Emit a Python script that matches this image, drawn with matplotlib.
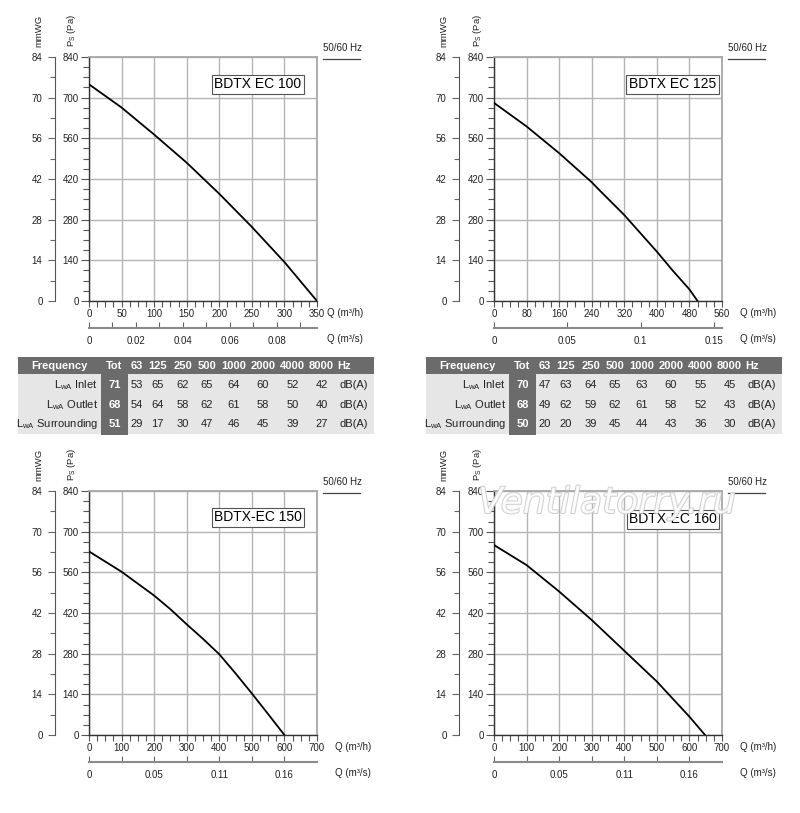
import numpy as np
import matplotlib.pyplot as plt
import matplotlib.patheffects as pe
from matplotlib.patches import Rectangle
from matplotlib.ticker import MultipleLocator, FixedLocator

plt.rcParams['font.family'] = ['Liberation Sans', 'DejaVu Sans']

W, H = 800, 813
AW, AH = 228, 244  # axes size in pixels

# fan curves: airflow Q (m3/h) vs static pressure Ps (Pa)
q_100 = [0, 50, 100, 150, 200, 250, 300, 350]
ps_100 = [746, 666, 573, 476, 369, 255, 134, 0]
q_125 = [0, 80, 160, 240, 260, 320, 360, 400, 440, 480, 500]
ps_125 = [682, 601, 509, 409, 380, 296, 233, 170, 103, 40, 0]
q_150 = [0, 100, 200, 250, 300, 350, 400, 450, 500, 550, 600]
ps_150 = [632, 562, 480, 433, 381, 331, 278, 212, 143, 72, 0]
q_160 = [0, 100, 200, 300, 400, 500, 600, 648]
ps_160 = [654, 585, 494, 396, 290, 184, 63, 0]

# second airflow scale (m3/s), as printed
qs_ticks_100 = [0, 0.02, 0.04, 0.06, 0.08]
qs_labels_100 = ['0', '0.02', '0.04', '0.06', '0.08']
qs_minor_100 = [0.01, 0.03, 0.05, 0.07, 0.09]
qs_ticks_125 = [0, 0.05, 0.1, 0.15]
qs_labels_125 = ['0', '0.05', '0.1', '0.15']
qs_ticks_150 = [0, 0.0556, 0.1111, 0.1667]
qs_labels_150 = ['0', '0.05', '0.11', '0.16']
qs_minor_150 = [0.0278, 0.0833, 0.1389]

# sound tables
freqs = ['63', '125', '250', '500', '1000', '2000', '4000', '8000']
row_names = ['Inlet', 'Outlet', 'Surrounding']
tot_100 = [71, 68, 51]
inlet_100 = [53, 65, 62, 65, 64, 60, 52, 42]
outlet_100 = [54, 64, 58, 62, 61, 58, 50, 40]
surr_100 = [29, 17, 30, 47, 46, 45, 39, 27]
tot_125 = [70, 68, 50]
inlet_125 = [47, 63, 64, 65, 63, 60, 55, 45]
outlet_125 = [49, 62, 59, 62, 61, 58, 52, 43]
surr_125 = [20, 20, 39, 45, 44, 43, 36, 30]

fig = plt.figure(figsize=(8, 8.13), dpi=100)
overlay = []  # texts drawn in pixel coords later


def draw_panel(x0, y0, q, ps, qmax, qstep, name, name_pos,
               qs_ticks, qs_labels, qs_minor, wg_off, qlab_dx):
    ax = fig.add_axes([x0 / W, 1 - (y0 + AH) / H, AW / W, AH / H])
    ax.plot(q, ps, color='black', lw=1.3, zorder=3)
    ax.set_xlim(0, qmax)
    ax.set_ylim(0, 840)
    ax.set_xticks(np.arange(0, qmax + 1, qstep))
    ax.xaxis.set_minor_locator(MultipleLocator(qstep / 4))
    ax.set_yticks(np.arange(0, 841, 140))
    ax.yaxis.set_minor_locator(MultipleLocator(35))
    ax.grid(True, which='major', color='#b4b4b4', lw=1)
    ax.tick_params(axis='x', which='both', direction='out', length=4,
                   width=0.8, color='#555', labelsize=7, pad=2, labelcolor='#222')
    ax.tick_params(axis='y', which='major', direction='out', length=6,
                   width=0.8, color='#555', labelsize=7, pad=1.5, labelcolor='#222')
    ax.tick_params(axis='y', which='minor', direction='out', length=4.5,
                   width=0.8, color='#555')
    for s in ['left', 'bottom']:
        ax.spines[s].set_color('#333')
        ax.spines[s].set_linewidth(1)
    for s in ['top', 'right']:
        ax.spines[s].set_color('#a8a8a8')
        ax.spines[s].set_linewidth(1.3)
    ax.text(name_pos[0], name_pos[1], name, transform=ax.transAxes,
            ha='center', va='center', fontsize=10, zorder=5,
            bbox=dict(boxstyle='square,pad=0.18', fc='white', ec='#555', lw=0.8))

    # m3/s scale
    sx = ax.secondary_xaxis(-27 / AH, functions=(lambda v: v / 3600, lambda v: v * 3600))
    sx.set_xticks(qs_ticks, qs_labels)
    if qs_minor:
        sx.xaxis.set_minor_locator(FixedLocator(qs_minor))
    sx.tick_params(which='both', direction='in', length=4, width=0.8,
                   color='#666', labelsize=7, pad=6, labelcolor='#222')
    sx.spines['bottom'].set_color('#8a8a8a')
    sx.spines['bottom'].set_linewidth(1.5)

    # mmWG scale
    sy = ax.secondary_yaxis(-wg_off / AW, functions=(lambda v: v / 10, lambda v: v * 10))
    sy.set_yticks(np.arange(0, 85, 14))
    sy.yaxis.set_minor_locator(MultipleLocator(7))
    sy.tick_params(which='major', direction='out', length=5, width=0.8,
                   color='#666', labelsize=7, pad=4, labelcolor='#222')
    sy.tick_params(which='minor', direction='out', length=3.5, width=0.8, color='#666')
    sy.spines['left'].set_color('#555')

    overlay.append((x0 - 50, y0 - 10, 'mmWG', dict(rotation=90, ha='center', va='bottom', fontsize=6.8)))
    overlay.append((x0 - 17, y0 - 10, r'P$_\mathregular{S}$ (Pa)', dict(rotation=90, ha='center', va='bottom', fontsize=6.8)))
    overlay.append((x0 + 234, y0 - 4, '50/60 Hz', dict(ha='left', va='bottom', fontsize=7)))
    overlay.append((x0 + qlab_dx, y0 + 256, 'Q (m³/h)', dict(ha='left', va='center', fontsize=7)))
    overlay.append((x0 + qlab_dx, y0 + 282, 'Q (m³/s)', dict(ha='left', va='center', fontsize=7)))
    overlay.append(('line', x0 + 234, x0 + 271, y0 + 2))


def draw_table(tx, tot, rows):
    ov.add_patch(Rectangle((tx, 357), 356, 17.5, fc='#6b6b6b', ec='none'))
    ov.add_patch(Rectangle((tx, 374.5), 356, 59.5, fc='#e6e6e6', ec='none'))
    ov.add_patch(Rectangle((tx + 83, 374.5), 27, 60.5, fc='#6b6b6b', ec='none'))
    cols = [119, 139.5, 165, 188.5, 215.5, 245, 274.5, 303.5]
    hkw = dict(color='white', fontweight='bold', fontsize=8, va='center')
    ov.text(tx + 41, 366, 'Frequency', ha='center', **hkw)
    ov.text(tx + 96.5, 366, 'Tot', ha='center', **hkw)
    for c, f in zip(cols, freqs):
        ov.text(tx + c, 366, f, ha='center', **hkw)
    ov.text(tx + 319, 366, 'Hz', ha='left', **hkw)
    for r, (nm, t, vals) in enumerate(zip(row_names, tot, rows)):
        y = 385 + r * 19.7
        ov.text(tx + 80, y, r'L$_\mathregular{wA}$ ' + nm, ha='right', va='center',
                fontsize=8, color='#222')
        ov.text(tx + 96.5, y, str(t), ha='center', va='center', fontsize=8,
                color='white', fontweight='bold')
        for c, v in zip(cols, vals):
            ov.text(tx + c, y, str(v), ha='center', va='center', fontsize=8, color='#222')
        ov.text(tx + 321, y, 'dB(A)', ha='left', va='center', fontsize=8, color='#222')


draw_panel(89, 57, q_100, ps_100, 350, 50, 'BDTX EC 100', (0.741, 0.889),
           qs_ticks_100, qs_labels_100, qs_minor_100, 34, 238)
draw_panel(494, 57, q_125, ps_125, 560, 80, 'BDTX EC 125', (0.783, 0.889),
           qs_ticks_125, qs_labels_125, None, 35, 246)
draw_panel(89, 491, q_150, ps_150, 700, 100, 'BDTX-EC 150', (0.741, 0.893),
           qs_ticks_150, qs_labels_150, qs_minor_150, 34, 246)
draw_panel(494, 491, q_160, ps_160, 700, 100, 'BDTX-EC 160', (0.785, 0.885),
           qs_ticks_150, qs_labels_150, qs_minor_150, 35, 246)

# pixel-space overlay for tables and free labels
ov = fig.add_axes([0, 0, 1, 1])
ov.set_xlim(0, W)
ov.set_ylim(H, 0)
ov.axis('off')

for item in overlay:
    if item[0] == 'line':
        ov.plot([item[1], item[2]], [item[3], item[3]], color='#444', lw=0.9)
    else:
        x, y, s, kw = item
        ov.text(x, y, s, color='#222', **kw)

draw_table(18, tot_100, [inlet_100, outlet_100, surr_100])
draw_table(426, tot_125, [inlet_125, outlet_125, surr_125])

# watermark
ov.text(607, 503, 'Ventilatorry.ru', ha='center', va='center', fontsize=26,
        family='DejaVu Sans', style='oblique', color='white', alpha=0.85,
        path_effects=[pe.withStroke(linewidth=1.4, foreground='#c8c8c8')])

fig.savefig('out.png', dpi=100)
